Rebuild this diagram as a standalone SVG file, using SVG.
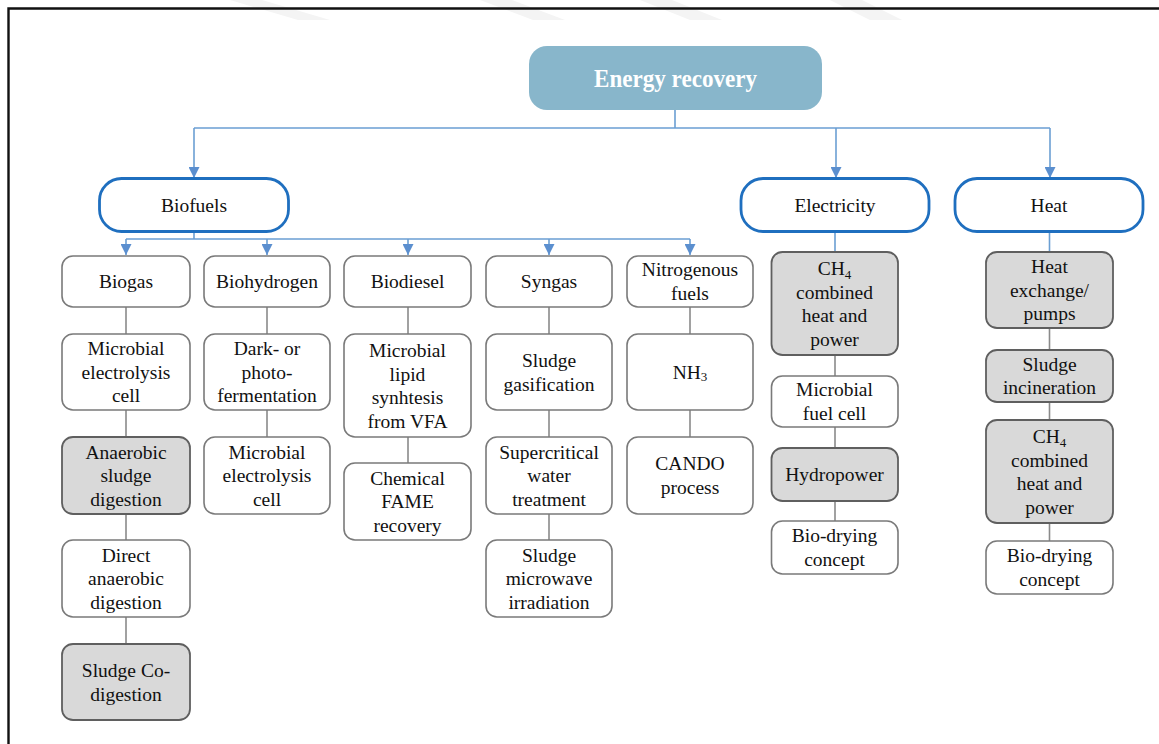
<svg xmlns="http://www.w3.org/2000/svg" width="1159" height="744" viewBox="0 0 1159 744">
<defs>
<style>
text{font-family:"Liberation Serif","DejaVu Serif","Times New Roman",serif;font-size:19.5px;fill:#111;text-anchor:middle}
.n rect{fill:#fff;stroke:#7a7a7a;stroke-width:1.6}
.g rect{fill:#d9d9d9;stroke:#5f5f5f;stroke-width:1.8}
.c rect{fill:#fff;stroke:#1f6fbf;stroke-width:2.8}
.top rect{fill:#88b6cb;stroke:none}
.top text{fill:#fff;font-weight:bold;font-size:25px}
.blue{fill:none;stroke:#6b9fd3;stroke-width:1.6}
.gray{fill:none;stroke:#8a8a8a;stroke-width:1.6}
.sub{font-size:13px}
</style>
<marker id="ah" viewBox="0 0 10 10" refX="10" refY="5" markerWidth="11" markerHeight="11" markerUnits="userSpaceOnUse" orient="auto">
<path d="M0,0 L10,5 L0,10 Z" fill="#5b8fcf"/>
</marker>
</defs>
<rect width="1159" height="744" fill="#fff"/>
<g id="watermark" fill="#f4f4f4">
<polygon points="230,0 262,0 330,20 298,20"/>
<polygon points="480,0 512,0 565,20 533,20"/>
<polygon points="640,0 672,0 722,20 690,20"/>
<polygon points="830,0 862,0 902,20 870,20"/>
</g>
<g id="frame" stroke="#111" stroke-width="2.4" fill="none">
<path d="M1159,8.5 H8.5 V744"/>
</g>
<g id="connectors">
<path class="blue" d="M675,110 V128 M194,128 H1050"/>
<path class="blue" d="M194,128 V178" marker-end="url(#ah)"/>
<path class="blue" d="M836,128 V178" marker-end="url(#ah)"/>
<path class="blue" d="M1050,128 V178" marker-end="url(#ah)"/>
<path class="blue" d="M194,232 V239 M126,239 H690"/>
<path class="blue" d="M126,239 V255" marker-end="url(#ah)"/>
<path class="blue" d="M267,239 V255" marker-end="url(#ah)"/>
<path class="blue" d="M408,239 V255" marker-end="url(#ah)"/>
<path class="blue" d="M549,239 V255" marker-end="url(#ah)"/>
<path class="blue" d="M690,239 V255" marker-end="url(#ah)"/>
<path class="blue" d="M835,232 V252 M1049.5,232 V252"/>
<path class="gray" d="M126,307 V334 M126,410 V437 M126,514 V540 M126,617 V644"/>
<path class="gray" d="M267,307 V334 M267,410 V437"/>
<path class="gray" d="M408,307 V334 M408,437 V463"/>
<path class="gray" d="M549,307 V334 M549,410 V437 M549,514 V540"/>
<path class="gray" d="M690,307 V334 M690,410 V437"/>
<path class="gray" d="M835,355 V376 M835,427 V448 M835,501 V521"/>
<path class="gray" d="M1049.5,328 V350 M1049.5,402 V420 M1049.5,523 V541"/>
</g>
<g id="energy-recovery" class="top"><rect x="529" y="46" width="293" height="64" rx="18"/><text x="675.5" y="86.5" textLength="163" lengthAdjust="spacingAndGlyphs">Energy recovery</text></g>
<g id="biofuels" class="c"><rect x="99.5" y="178.5" width="189" height="53" rx="22"/><text x="194" y="212">Biofuels</text></g>
<g id="electricity" class="c"><rect x="741" y="178.5" width="188" height="53" rx="22"/><text x="835" y="212">Electricity</text></g>
<g id="heat" class="c"><rect x="955" y="178.5" width="188" height="53" rx="22"/><text x="1049" y="212">Heat</text></g>

<g id="biogas" class="n"><rect x="62" y="256" width="128" height="51" rx="11"/><text x="126" y="288">Biogas</text></g>
<g id="biogas-mec" class="n"><rect x="62" y="334" width="128" height="76" rx="11"/><text x="126" y="355">Microbial</text><text x="126" y="378.5">electrolysis</text><text x="126" y="402">cell</text></g>
<g id="anaerobic-sludge-digestion" class="g"><rect x="62" y="437" width="128" height="77" rx="11"/><text x="126" y="458.5">Anaerobic</text><text x="126" y="482">sludge</text><text x="126" y="505.5">digestion</text></g>
<g id="direct-anaerobic-digestion" class="n"><rect x="62" y="540" width="128" height="77" rx="11"/><text x="126" y="561.5">Direct</text><text x="126" y="585">anaerobic</text><text x="126" y="608.5">digestion</text></g>
<g id="sludge-co-digestion" class="g"><rect x="62" y="644" width="128" height="76" rx="11"/><text x="126" y="677">Sludge Co-</text><text x="126" y="700.5">digestion</text></g>

<g id="biohydrogen" class="n"><rect x="204" y="256" width="126" height="51" rx="11"/><text x="267" y="288">Biohydrogen</text></g>
<g id="dark-photo-fermentation" class="n"><rect x="204" y="334" width="126" height="76" rx="11"/><text x="267" y="355">Dark- or</text><text x="267" y="378.5">photo-</text><text x="267" y="402">fermentation</text></g>
<g id="biohydrogen-mec" class="n"><rect x="204" y="437" width="126" height="77" rx="11"/><text x="267" y="458.5">Microbial</text><text x="267" y="482">electrolysis</text><text x="267" y="505.5">cell</text></g>

<g id="biodiesel" class="n"><rect x="344" y="256" width="127" height="51" rx="11"/><text x="407.5" y="288">Biodiesel</text></g>
<g id="microbial-lipid" class="n"><rect x="344" y="334" width="127" height="103" rx="11"/><text x="407.5" y="357">Microbial</text><text x="407.5" y="380.5">lipid</text><text x="407.5" y="404">synhtesis</text><text x="407.5" y="427.5">from VFA</text></g>
<g id="chemical-fame" class="n"><rect x="344" y="463" width="127" height="77" rx="11"/><text x="407.5" y="484.5">Chemical</text><text x="407.5" y="508">FAME</text><text x="407.5" y="531.5">recovery</text></g>

<g id="syngas" class="n"><rect x="486" y="256" width="126" height="51" rx="11"/><text x="549" y="288">Syngas</text></g>
<g id="sludge-gasification" class="n"><rect x="486" y="334" width="126" height="76" rx="11"/><text x="549" y="367">Sludge</text><text x="549" y="390.5">gasification</text></g>
<g id="supercritical-water" class="n"><rect x="486" y="437" width="126" height="77" rx="11"/><text x="549" y="458.5">Supercritical</text><text x="549" y="482">water</text><text x="549" y="505.5">treatment</text></g>
<g id="sludge-microwave" class="n"><rect x="486" y="540" width="126" height="77" rx="11"/><text x="549" y="561.5">Sludge</text><text x="549" y="585">microwave</text><text x="549" y="608.5">irradiation</text></g>

<g id="nitrogenous-fuels" class="n"><rect x="627" y="256" width="126" height="51" rx="11"/><text x="690" y="276">Nitrogenous</text><text x="690" y="299.5">fuels</text></g>
<g id="nh3" class="n"><rect x="627" y="334" width="126" height="76" rx="11"/><text x="690" y="378.5">NH<tspan class="sub" dy="2">3</tspan></text></g>
<g id="cando" class="n"><rect x="627" y="437" width="126" height="77" rx="11"/><text x="690" y="470">CANDO</text><text x="690" y="493.5">process</text></g>

<g id="elec-ch4-chp" class="g"><rect x="771.5" y="252" width="126.5" height="103" rx="11"/><text x="834.5" y="275">CH<tspan class="sub" dy="4">4</tspan></text><text x="834.5" y="298.5">combined</text><text x="834.5" y="322">heat and</text><text x="834.5" y="345.5">power</text></g>
<g id="microbial-fuel-cell" class="n"><rect x="771.5" y="376" width="126.5" height="51" rx="11"/><text x="834.5" y="396">Microbial</text><text x="834.5" y="419.5">fuel cell</text></g>
<g id="hydropower" class="g"><rect x="771.5" y="448" width="126.5" height="53" rx="11"/><text x="834.5" y="481">Hydropower</text></g>
<g id="elec-bio-drying" class="n"><rect x="771.5" y="521" width="126.5" height="53" rx="11"/><text x="834.5" y="542">Bio-drying</text><text x="834.5" y="565.5">concept</text></g>

<g id="heat-exchange" class="g"><rect x="986" y="252" width="127" height="76" rx="11"/><text x="1049.5" y="273">Heat</text><text x="1049.5" y="296.5">exchange/</text><text x="1049.5" y="320">pumps</text></g>
<g id="sludge-incineration" class="g"><rect x="986" y="350" width="127" height="52" rx="11"/><text x="1049.5" y="370.5">Sludge</text><text x="1049.5" y="394">incineration</text></g>
<g id="heat-ch4-chp" class="g"><rect x="986" y="420" width="127" height="103" rx="11"/><text x="1049.5" y="443">CH<tspan class="sub" dy="4">4</tspan></text><text x="1049.5" y="466.5">combined</text><text x="1049.5" y="490">heat and</text><text x="1049.5" y="513.5">power</text></g>
<g id="heat-bio-drying" class="n"><rect x="986" y="541" width="127" height="53" rx="11"/><text x="1049.5" y="562">Bio-drying</text><text x="1049.5" y="585.5">concept</text></g>
</svg>
